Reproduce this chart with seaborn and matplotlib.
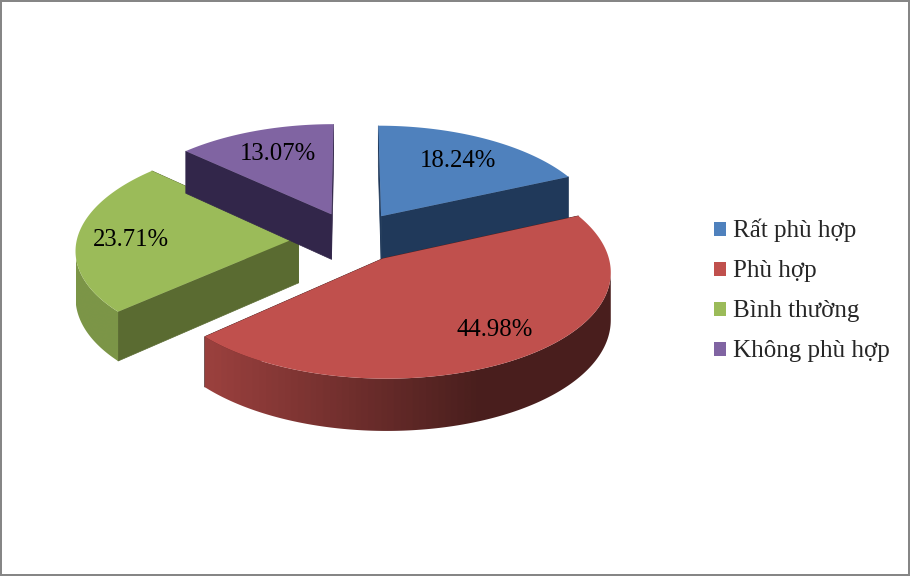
import numpy as np
import matplotlib
matplotlib.use('Agg')
import matplotlib.pyplot as plt
from matplotlib.patches import Patch, Polygon, Rectangle
import seaborn as sns

# values
categories = ['Rất phù hợp', 'Phù hợp', 'Bình thường', 'Không phù hợp']
shares = [18.24, 44.98, 23.71, 13.07]
colors = ['#4F81BD', '#C0504D', '#9BBB59', '#8064A2']
cut_colors = ['#20395A', '#4D1E1D', '#5A6B31', '#32264A']

sns.set_theme(style='white')
plt.rcParams['font.family'] = ['Liberation Serif', 'DejaVu Serif']

W, H = 910, 576
fig = plt.figure(figsize=(W / 100, H / 100), dpi=100)
ax = fig.add_axes([0, 0, 1, 1])

# fake 3D camera: pie plane with radius 1, small perspective
CX, CY, RX, RY, PERSP_X, PERSP_Y, DEPTH, EXPLODE = 352.5, 237, 221, 103.5, 0.11, 0.10, 46, 0.244


def project(x, y, drop=False):
    sx = 1 / (1 + PERSP_X * y)
    sy = 1 / (1 + PERSP_Y * y)
    return CX + RX * x * sx, CY - RY * y * sy + (DEPTH * sy if drop else 0)


def wall_gradient(base, x0, x1):
    # light on the left, dark from about x=476 on
    grad = sns.blend_palette([base, '#000000'], 101)
    px = np.linspace(x0, x1, 300)
    t = np.clip((px - 207) / (476 - 207), 0, 1)
    return np.array([[grad[int(20 + v * 42)] for v in t]])


edges = np.radians(np.cumsum([0] + shares) * 3.6)
# painter's order, back slices first
for i in [3, 0, 2, 1]:
    a0, a1 = edges[i], edges[i + 1]
    mid = (a0 + a1) / 2
    ox, oy = EXPLODE * np.sin(mid), EXPLODE * np.cos(mid)
    th = np.linspace(a0, a1, 240)
    xs, ys = ox + np.sin(th), oy + np.cos(th)
    arc = np.array([project(a, b) for a, b in zip(xs, ys)])

    # radial cut faces
    for a in (a0, a1):
        ex, ey = ox + np.sin(a), oy + np.cos(a)
        pts = [project(ox, oy), project(ex, ey), project(ex, ey, True), project(ox, oy, True)]
        ax.fill(*zip(*pts), color=cut_colors[i], lw=0.5, zorder=i)

    # outer wall: front part of the arc, between its right and left silhouette points
    front = np.flatnonzero(np.cos(th) <= 0.35)
    if len(front) > 1:
        n0 = front[arc[front, 0].argmax()]
        n1 = front[arc[front, 0].argmin()]
        lower = np.array([project(a, b, True) for a, b in zip(xs[n0:n1 + 1], ys[n0:n1 + 1])])
        wall = np.vstack([arc[n0:n1 + 1], lower[::-1]])
        x0, x1 = wall[:, 0].min(), wall[:, 0].max()
        img = ax.imshow(wall_gradient(colors[i], x0, x1), aspect='auto', interpolation='bilinear',
                        extent=(x0, x1, wall[:, 1].max(), wall[:, 1].min()), zorder=i)
        img.set_clip_path(Polygon(wall, transform=ax.transData))

    # top face
    top = np.vstack([project(ox, oy), arc])
    ax.fill(top[:, 0], top[:, 1], color=colors[i], lw=0, zorder=i)

# data labels, placed from the slice tip like the original
label_shift = [(77, -55), (112, 71), (-168, 3), (-54, -60)]
for i, v in enumerate(shares):
    mid = (edges[i] + edges[i + 1]) / 2
    px, py = project(EXPLODE * np.sin(mid), EXPLODE * np.cos(mid))
    ax.text(px + label_shift[i][0], py + label_shift[i][1], f'{v:.2f}%', ha='center', va='center',
            fontsize=17.8, color='black', zorder=10)

ax.set_xlim(0, W)
ax.set_ylim(H, 0)
ax.axis('off')

handles = [Patch(facecolor=c, edgecolor='none', label=n) for c, n in zip(colors, categories)]
ax.legend(handles=handles, loc='upper left', bbox_to_anchor=(714, 219),
          bbox_transform=ax.transData, frameon=False, fontsize=18,
          handlelength=0.48, handleheight=0.48, handletextpad=0.28,
          labelspacing=0.72, borderpad=0, borderaxespad=0)

# chart area border
ax.add_patch(Rectangle((1, 1), W - 2, H - 2, fill=False, ec='#868686', lw=1.44, zorder=20, clip_on=False))

fig.savefig('out.png', dpi=100)
